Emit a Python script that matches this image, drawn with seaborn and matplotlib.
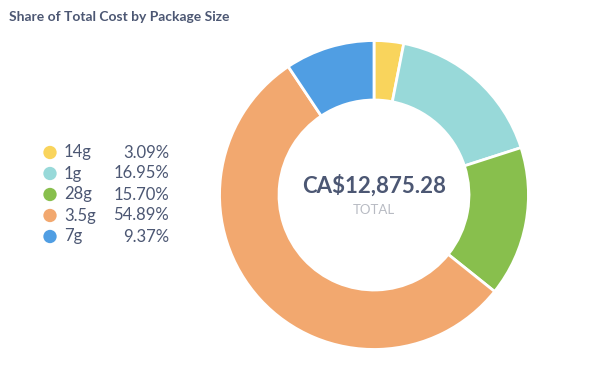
import matplotlib
matplotlib.use("Agg")
import matplotlib.pyplot as plt
import seaborn as sns

sns.set_style("white")
plt.rcParams['font.family'] = ['Lato', 'DejaVu Sans']

categories = ["14g", "1g", "28g", "3.5g", "7g"]
shares = [3.09, 16.95, 15.70, 54.89, 9.37]
share_labels = ["3.09%", "16.95%", "15.70%", "54.89%", "9.37%"]
colors = sns.color_palette(["#F9D45C", "#98D9D9", "#88BF4D", "#F2A86F", "#509EE3"])
title = "Share of Total Cost by Package Size"
total_text = "CA$12,875.28"
total_label = "TOTAL"

text_color = "#4C5773"
W, H = 602, 370
fig = plt.figure(figsize=(W / 100, H / 100), dpi=100)

# donut
cx, cy, r = 374, 195, 156
ax = fig.add_axes([(cx - r) / W, (H - cy - r) / H, 2 * r / W, 2 * r / H])
ax.pie(shares, colors=colors, startangle=90, counterclock=False,
       radius=1.0, wedgeprops=dict(width=0.385, edgecolor="white", linewidth=2))
ax.set_xlim(-1.01, 1.01)
ax.set_ylim(-1.01, 1.01)
ax.set_aspect("equal")
ax.axis("off")
ax.text(0, 0.06, total_text, ha="center", va="center", fontsize=16,
        fontweight="bold", color=text_color)
ax.text(0, -0.10, total_label, ha="center", va="center", fontsize=9.5,
        color="#B8BBC3")

# overlay for title and legend
ov = fig.add_axes([0, 0, 1, 1])
ov.set_xlim(0, W)
ov.set_ylim(H, 0)
ov.axis("off")
ov.text(9, 17, title, ha="left", va="center", fontsize=10,
        fontweight="bold", color=text_color)

ys = [152.5, 173.5, 194.5, 215.5, 236.5]
ov.scatter([50] * len(categories), ys, s=92, c=colors, linewidths=0)
for y, cat, lab in zip(ys, categories, share_labels):
    ov.text(64, y, cat, ha="left", va="center", fontsize=12, color=text_color)
    ov.text(169, y, lab, ha="right", va="center", fontsize=12, color=text_color)

fig.savefig("out.png", dpi=100, facecolor="white")
